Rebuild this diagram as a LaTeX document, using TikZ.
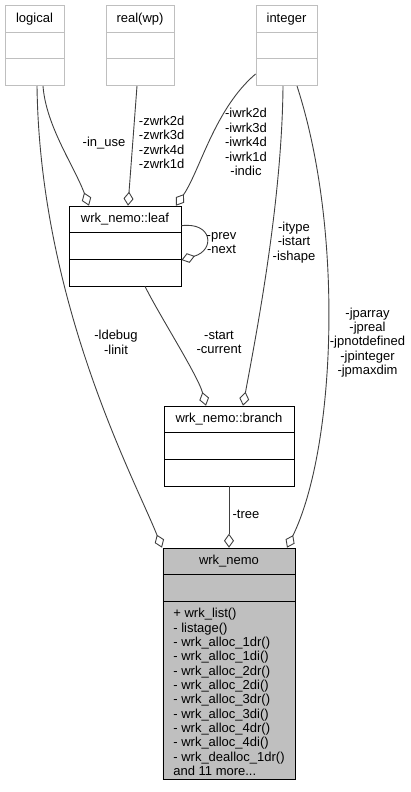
\documentclass[tikz,border=0pt]{standalone}
\usepackage{fontspec}
\setmainfont{Liberation Sans}
\usetikzlibrary{shapes.multipart,arrows.meta}
\definecolor{grey75}{gray}{0.75}
\definecolor{grey25}{gray}{0.25}
\newcommand{\titlestrut}{\rule[-3.2pt]{0pt}{12.7pt}}
\newcommand{\mline}[1]{\hbox{#1}}
\begin{document}
\begin{tikzpicture}[x=1pt,y=-1pt,
  every node/.style={font=\fontsize{13}{14.36}\selectfont},
  classbox/.style={draw, rectangle split, rectangle split parts=3, anchor=north,
    inner xsep=10.4pt, inner ysep=6.5pt, line width=0.9pt,
    rectangle split empty part height=9.5pt, rectangle split empty part depth=3.2pt},
  typebox/.style={classbox, draw=grey75},
  userbox/.style={classbox, draw=black},
  mainbox/.style={classbox, draw=black, fill=grey75,
    rectangle split part align={center,center,left}},
  dep/.style={draw=grey25, line width=0.9pt, -{Diamond[open,length=14pt,width=10pt]}},
  lbl/.style={align=center, inner sep=0pt}]
\useasboundingbox (0,0) rectangle (411,792);
\node[typebox, minimum width=59] (logical) at (34.5,5.3) {\titlestrut logical\nodepart{second}\nodepart{third}};
\node[typebox, minimum width=68] (realwp) at (140,5.3) {\titlestrut real(wp)\nodepart{second}\nodepart{third}};
\node[typebox, minimum width=61] (integer) at (286.5,5.3) {\titlestrut integer\nodepart{second}\nodepart{third}};
\node[userbox, minimum width=112] (leaf) at (125,205.7) {\titlestrut wrk\_nemo::leaf\nodepart{second}\nodepart{third}};
\node[userbox, minimum width=130] (branch) at (229,405.7) {\titlestrut wrk\_nemo::branch\nodepart{second}\nodepart{third}};
\node[mainbox, minimum width=132] (wrknemo) at (229,547.7) {\titlestrut wrk\_nemo\nodepart{second}\nodepart{third}\vbox{%
  \mline{+ wrk\_list()}\mline{- listage()}%
  \mline{- wrk\_alloc\_1dr()}\mline{- wrk\_alloc\_1di()}%
  \mline{- wrk\_alloc\_2dr()}\mline{- wrk\_alloc\_2di()}%
  \mline{- wrk\_alloc\_3dr()}\mline{- wrk\_alloc\_3di()}%
  \mline{- wrk\_alloc\_4dr()}\mline{- wrk\_alloc\_4di()}%
  \mline{- wrk\_dealloc\_1dr()}\mline{and 11 more...}\vskip-3pt}};
\draw[dep] ([xshift=8.5]logical.south) .. controls +(3,40) and +(-15,-40) .. ([xshift=-36]leaf.north);
\draw[dep] ([xshift=2.5]logical.south) .. controls +(3,218) and +(-27,-68) .. ([xshift=-67]wrknemo.north);
\draw[dep] ([xshift=-3]realwp.south) -- ([xshift=3]leaf.north);
\draw[dep] ([yshift=12]integer.south west) .. controls +(-41,35) and +(24,-35) .. ([xshift=51]leaf.north);
\draw[dep] ([xshift=-3.5]integer.south) .. controls +(-1,118) and +(12,-65) .. ([xshift=14]branch.north);
\draw[dep] ([xshift=10.5]integer.south) .. controls +(48,148) and +(48,-98) .. ([xshift=58]wrknemo.north);
\draw[dep] ([xshift=20]leaf.south) .. controls +(15,30) and +(-8,-30) .. ([xshift=-23]branch.north);
\draw[dep] ([yshift=-20]leaf.north east) .. controls +(31,-4) and +(34,-10) .. ([yshift=-54.3]leaf.north east);
\draw[dep] (branch.south) -- (wrknemo.north);
\node[lbl] (inuse) at (104,143) {-in\_use};
\node[lbl] (zwrk) at (161.7,142.5) {-zwrk2d\\-zwrk3d\\-zwrk4d\\-zwrk1d};
\node[lbl] (iwrk) at (246,142) {-iwrk2d\\-iwrk3d\\-iwrk4d\\-iwrk1d\\-indic};
\node[lbl] (ivars) at (294,242.5) {-itype\\-istart\\-ishape};
\node[lbl] (jpvars) at (367.5,342.5) {-jparray\\-jpreal\\-jpnotdefined\\-jpinteger\\-jpmaxdim};
\node[lbl] (lflags) at (116,342.5) {-ldebug\\-linit};
\node[lbl] (ptrs) at (219,342.5) {-start\\-current};
\node[lbl] (treelbl) at (246,514) {-tree};
\node[lbl] (links) at (221.5,243) {-prev\\-next};
\end{tikzpicture}
\end{document}
